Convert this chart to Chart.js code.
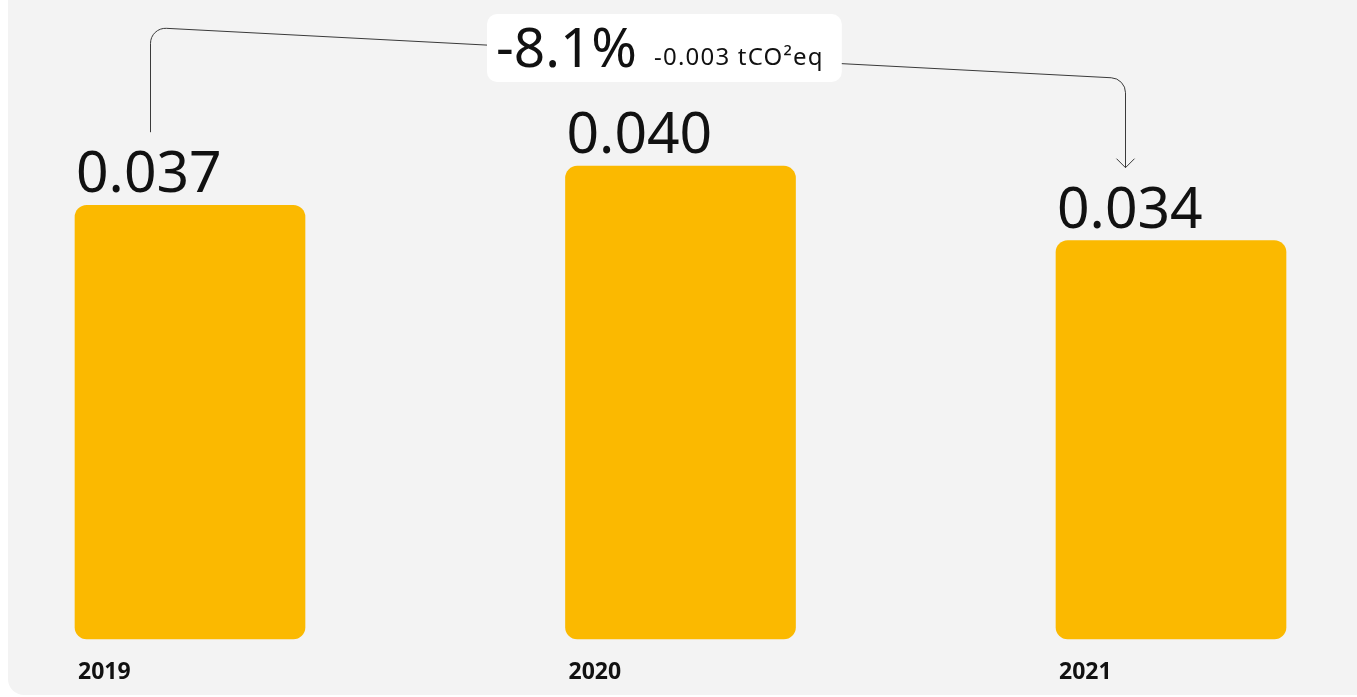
<!DOCTYPE html>
<html>
<head>
<meta charset="utf-8">
<title>Emission intensity 2019-2021</title>
<script src="https://cdn.jsdelivr.net/npm/chart.js@4.4.1/dist/chart.umd.min.js"></script>
<style>
    html, body { margin: 0; padding: 0; background: #ffffff; overflow: hidden; }
    #wrap { width: 1357px; height: 697px; position: relative; }
</style>
</head>
<body>
<div id="wrap"><canvas id="chart"></canvas></div>
<script>
// ===============================
// Emission intensity bar chart
// ===============================

// ---------- Data ----------

const years = ["2019", "2020", "2021"];
const intensity = [0.0367, 0.0400, 0.0337];
const changePct = "-8.1%";
const changeAbs = "-0.003 tCO²eq";

const FONT = "'Noto Sans', 'DejaVu Sans', sans-serif";
const BAR_COLOR = "#fbb900";
const PANEL_COLOR = "#f3f3f3";

// ---------- Background panel ----------

const panelPlugin = {
    id: "panel",
    beforeDraw(chart) {
        const { ctx, width, height } = chart;
        ctx.save();
        ctx.fillStyle = "#ffffff";
        ctx.fillRect(0, 0, width, height);
        ctx.fillStyle = PANEL_COLOR;
        ctx.beginPath();
        ctx.roundRect(8, -20, width + 12, height - 2 + 20, 16);
        ctx.fill();
        ctx.restore();
    }
};

// ---------- Value + year labels ----------

const labelPlugin = {
    id: "barLabels",
    afterDatasetsDraw(chart) {
        const { ctx, chartArea } = chart;
        const meta = chart.getDatasetMeta(0);
        ctx.save();
        ctx.fillStyle = "#111111";
        ctx.textAlign = "left";
        ctx.textBaseline = "alphabetic";
        meta.data.forEach((bar, i) => {
            const left = bar.x - bar.width / 2;
            ctx.font = "400 57px " + FONT;
            ctx.fillText(intensity[i].toFixed(3), left + 1, bar.y - 13);
            ctx.font = "700 23px " + FONT;
            ctx.fillText(years[i], left + 3, chartArea.bottom + 40);
        });
        ctx.restore();
    }
};

// ---------- Change annotation ----------

const changePlugin = {
    id: "change",
    afterDraw(chart) {
        const { ctx } = chart;
        const meta = chart.getDatasetMeta(0);
        const first = meta.data[0];
        const last = meta.data[meta.data.length - 1];

        const x0 = Math.round(first.x - 40) + 0.5;
        const x1 = Math.round(last.x - 46) + 0.5;
        const yL = 27.5, yR = 78.5;
        const y0end = first.y - 73;
        const y1end = last.y - 73;

        ctx.save();
        ctx.strokeStyle = "#3a3a3a";
        ctx.lineWidth = 1;
        ctx.beginPath();
        ctx.moveTo(x0, y0end);
        ctx.arcTo(x0, yL, x1, yR, 15);
        ctx.arcTo(x1, yR, x1, y1end, 15);
        ctx.lineTo(x1, y1end);
        ctx.stroke();

        ctx.beginPath();
        ctx.moveTo(x1 - 9, y1end - 9);
        ctx.lineTo(x1, y1end);
        ctx.lineTo(x1 + 9, y1end - 9);
        ctx.stroke();

        // label box
        const boxX = 487, boxY = 14, boxH = 68;
        ctx.font = "400 55px " + FONT;
        const w1 = ctx.measureText(changePct).width;
        ctx.font = "400 24px " + FONT;
        ctx.letterSpacing = "1.2px";
        const w2 = ctx.measureText(changeAbs).width;
        ctx.letterSpacing = "0px";
        const boxW = 9 + w1 + 17 + w2 + 18;

        ctx.fillStyle = "#ffffff";
        ctx.beginPath();
        ctx.roundRect(boxX, boxY, boxW, boxH, 10);
        ctx.fill();

        ctx.fillStyle = "#111111";
        ctx.textAlign = "left";
        ctx.font = "400 55px " + FONT;
        ctx.fillText(changePct, boxX + 9, 67);
        ctx.font = "400 24px " + FONT;
        ctx.letterSpacing = "1.2px";
        ctx.fillText(changeAbs, boxX + 9 + w1 + 17, 65);
        ctx.restore();
    }
};

// ---------- Chart ----------

new Chart(document.getElementById("chart"), {
    type: "bar",
    data: {
        labels: years,
        datasets: [{
            data: intensity,
            backgroundColor: BAR_COLOR,
            borderWidth: 0,
            borderRadius: 12,
            borderSkipped: false,
            barThickness: 230,
            clip: false
        }]
    },
    options: {
        responsive: true,
        maintainAspectRatio: false,
        animation: false,
        layout: {
            padding: { left: 190, right: 186, top: 48, bottom: 58 }
        },
        plugins: {
            legend: { display: false },
            tooltip: { enabled: false }
        },
        scales: {
            x: {
                display: false,
                offset: false,
                grid: { display: false }
            },
            y: {
                display: false,
                min: 0,
                max: 0.05,
                grid: { display: false }
            }
        }
    },
    plugins: [panelPlugin, labelPlugin, changePlugin]
});
</script>
</body>
</html>
